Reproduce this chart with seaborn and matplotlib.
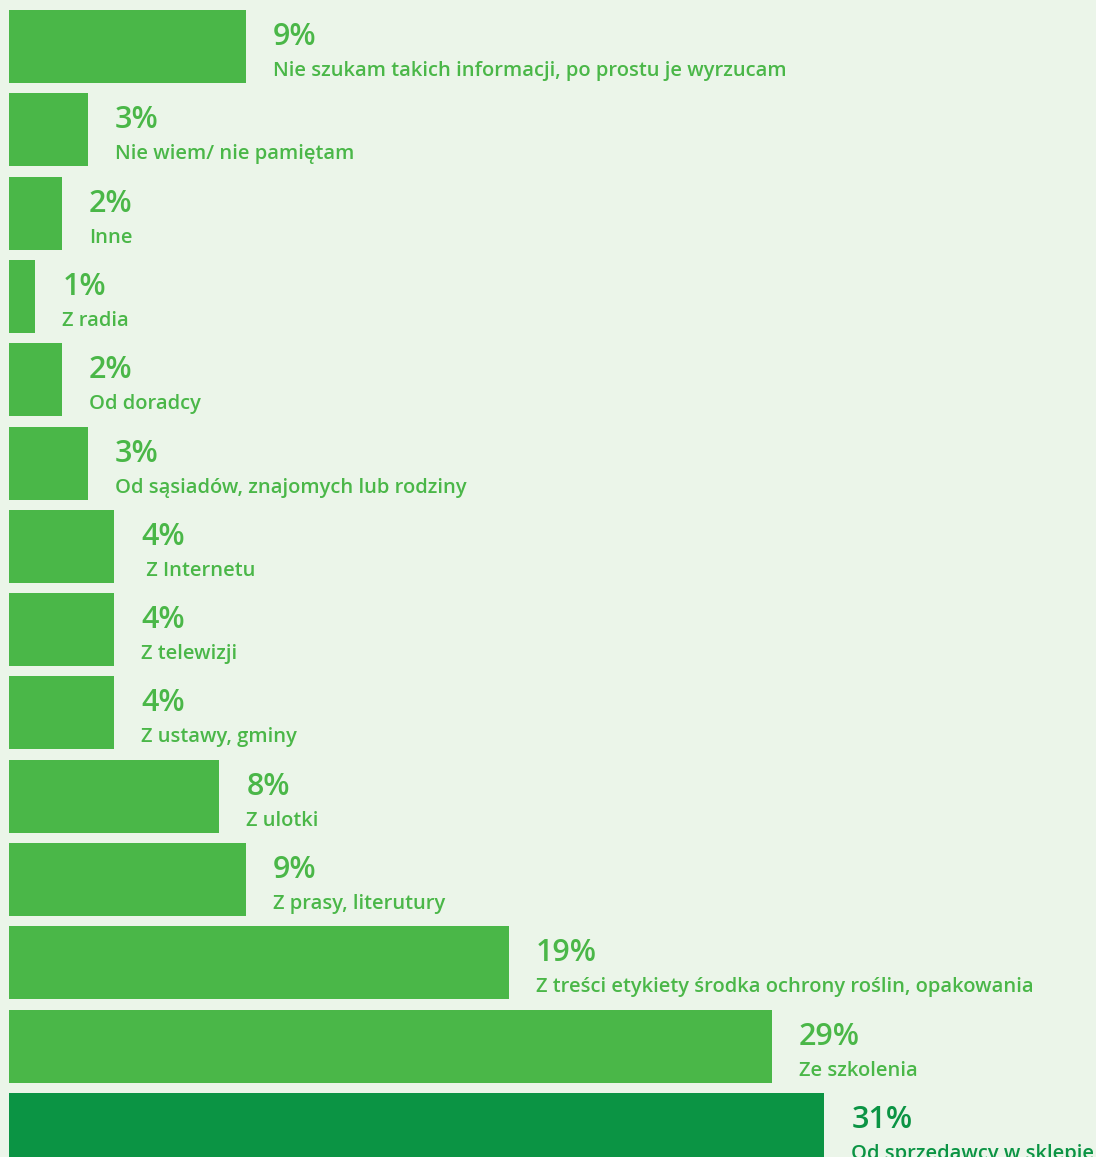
import numpy as np
import pandas as pd
import matplotlib.pyplot as plt
import seaborn as sns

labels = ['Nie szukam takich informacji, po prostu je wyrzucam',
          'Nie wiem/ nie pamiętam',
          'Inne',
          'Z radia',
          'Od doradcy',
          'Od sąsiadów, znajomych lub rodziny',
          ' Z Internetu',
          'Z telewizji',
          'Z ustawy, gminy',
          'Z ulotki',
          'Z prasy, literutury',
          'Z treści etykiety środka ochrony roślin, opakowania',
          'Ze szkolenia',
          'Od sprzedawcy w sklepie']
values = [9, 3, 2, 1, 2, 3, 4, 4, 4, 8, 9, 19, 29, 31]

green = '#4AB748'
dark = '#0B9444'
bg = '#EBF5E9'

df = pd.DataFrame({'label': labels, 'value': values})
df['kind'] = ['top' if v == max(values) else 'rest' for v in values]

sns.set_style('white')
plt.rcParams['font.family'] = ['Open Sans', 'DejaVu Sans']

fig = plt.figure(figsize=(10.96, 11.57), dpi=100)
fig.patch.set_facecolor(bg)
ax = fig.add_axes([0, 0, 1, 1])
ax.set_facecolor(bg)

sns.barplot(data=df, x='value', y='label', hue='kind', orient='h',
            palette={'rest': green, 'top': dark}, width=0.876,
            dodge=False, legend=False, ax=ax, saturation=1,
            linewidth=0, edgecolor='none')

for i, (lab, v) in enumerate(zip(labels, values)):
    c = dark if v == max(values) else green
    ax.text(v + 1.03, i - 0.018, f'{v}%', color=c, fontsize=22,
            fontweight='semibold', va='baseline', ha='left')
    ax.text(v + 1.03, i + 0.354, lab, color=c, fontsize=14.5,
            fontweight='semibold', va='baseline', ha='left')

ax.set_xlim(-0.342, 41.33)
ax.set_ylim(13.33, -0.558)
ax.set_xlabel('')
ax.set_ylabel('')
ax.set_xticks([])
ax.set_yticks([])
sns.despine(ax=ax, left=True, bottom=True)

fig.savefig('out.png', dpi=100, facecolor=bg)
